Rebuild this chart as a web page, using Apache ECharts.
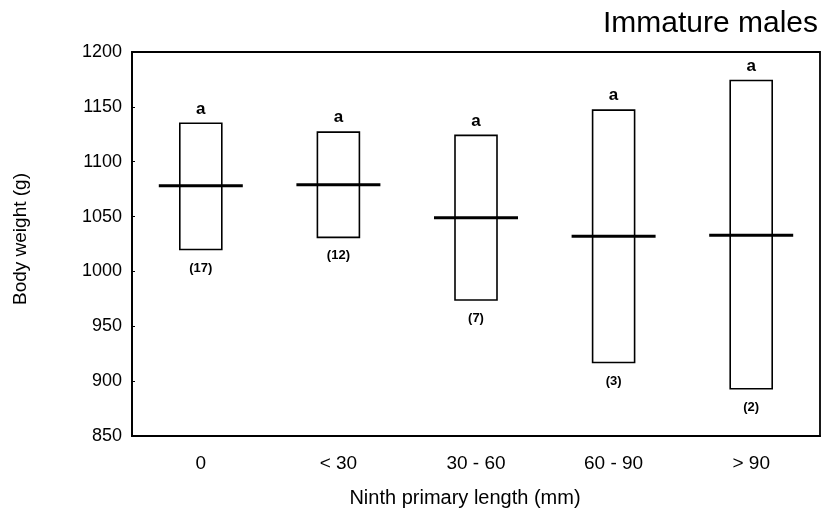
<!DOCTYPE html>
<html>
<head>
<meta charset="utf-8">
<script src="https://cdn.jsdelivr.net/npm/echarts@6/dist/echarts.min.js"></script>
<style>
  html, body { margin: 0; padding: 0; background: #fff; }
  #chart { width: 827px; height: 512px; }
</style>
</head>
<body>
<div id="chart"></div>
<script>
// ninth primary length classes
var categories = ['0', '< 30', '30 - 60', '60 - 90', '> 90'];
var upper = [1135, 1127, 1124, 1147, 1174];
var lower = [1020, 1031, 974, 917, 893];
var means = [1078, 1079, 1049, 1032, 1033];
var sizes = ['(17)', '(12)', '(7)', '(3)', '(2)'];
var letters = ['a', 'a', 'a', 'a', 'a'];

var font = 'Liberation Sans, Arial, sans-serif';

var chart = echarts.init(document.getElementById('chart'));

var boxData = categories.map(function (c, i) {
  return [i, lower[i], upper[i], means[i]];
});

function renderBox(params, api) {
  var i = api.value(0);
  var lo = api.coord([i, api.value(1)]);
  var hi = api.coord([i, api.value(2)]);
  var mid = api.coord([i, api.value(3)]);
  var halfW = 21;
  var halfLine = 42;
  return {
    type: 'group',
    children: [
      {
        type: 'rect',
        shape: { x: hi[0] - halfW, y: hi[1], width: halfW * 2, height: lo[1] - hi[1] },
        style: { fill: 'none', stroke: '#000', lineWidth: 1.6 }
      },
      {
        type: 'line',
        shape: { x1: mid[0] - halfLine, y1: mid[1], x2: mid[0] + halfLine, y2: mid[1] },
        style: { stroke: '#000', lineWidth: 3 }
      },
      {
        type: 'text',
        x: hi[0], y: hi[1] - 6,
        style: { text: letters[i], font: 'bold 17px ' + font, fill: '#000', align: 'center', verticalAlign: 'bottom' }
      },
      {
        type: 'text',
        x: lo[0], y: lo[1] + 12,
        style: { text: sizes[i], font: 'bold 13px ' + font, fill: '#000', align: 'center', verticalAlign: 'top' }
      }
    ]
  };
}

var option = {
  animation: false,
  title: {
    text: 'Immature males',
    right: 4,
    top: 4,
    textStyle: { fontSize: 30, fontWeight: 'normal', color: '#000', fontFamily: font }
  },
  grid: {
    left: 132,
    right: 7,
    top: 52,
    bottom: 76,
    outerBoundsMode: 'none',
    containLabel: false,
    show: true,
    borderColor: '#000',
    borderWidth: 1.8,
    backgroundColor: 'transparent'
  },
  xAxis: {
    type: 'category',
    data: categories,
    name: 'Ninth primary length (mm)',
    nameLocation: 'middle',
    nameGap: 52,
    nameTextStyle: { fontSize: 20, color: '#000', fontFamily: font, padding: [0, 22, 0, 0] },
    axisLine: { lineStyle: { color: '#000', width: 1.8 } },
    axisTick: { show: false },
    axisLabel: { fontSize: 19, color: '#000', fontFamily: font, margin: 18 }
  },
  yAxis: {
    type: 'value',
    min: 850,
    max: 1200,
    interval: 50,
    name: 'Body weight (g)',
    nameLocation: 'middle',
    nameGap: 102,
    nameTextStyle: { fontSize: 19, color: '#000', fontFamily: font, padding: [0, 0, 0, 10] },
    axisLine: { show: true, lineStyle: { color: '#000', width: 1.8 } },
    axisTick: { show: true, inside: true, length: 3, lineStyle: { color: '#000' } },
    splitLine: { show: false },
    axisLabel: {
      fontSize: 18, color: '#000', fontFamily: font, margin: 10,
      formatter: function (v) { return String(v); }
    }
  },
  series: [
    {
      type: 'custom',
      renderItem: renderBox,
      data: boxData,
      encode: { x: 0, y: [1, 2, 3] }
    }
  ]
};

chart.setOption(option);
</script>
</body>
</html>
